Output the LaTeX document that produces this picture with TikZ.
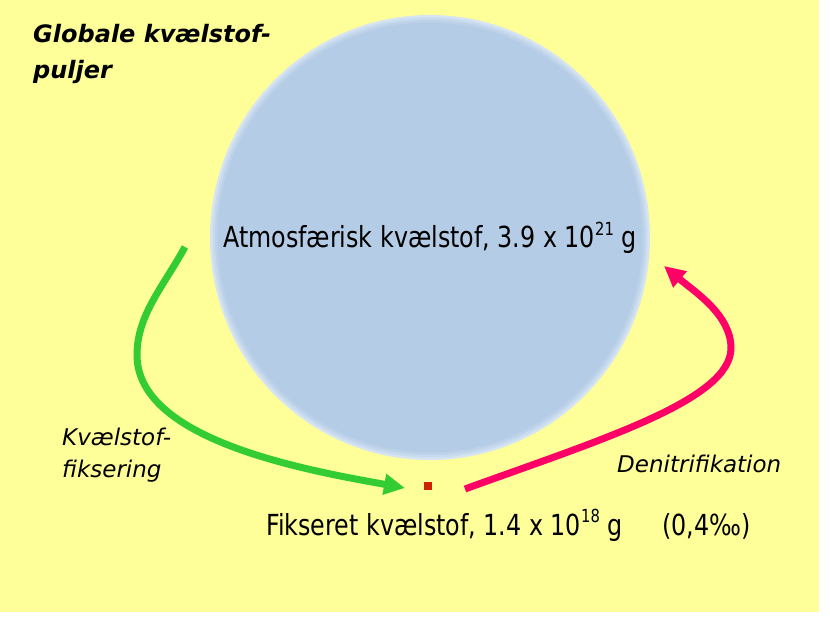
\documentclass[tikz,border=0pt]{standalone}
\usepackage{fontspec}
\setmainfont{DejaVu Sans}
\newfontfamily\tahfont{DejaVu Sans}[FakeStretch=0.82]
\usetikzlibrary{arrows.meta,shapes.geometric}
\definecolor{bgyellow}{HTML}{FFFF99}
\definecolor{atmblue}{HTML}{B4CCE5}
\definecolor{glowA}{HTML}{D6E4F2}
\definecolor{glowB}{HTML}{C8DAED}
\definecolor{glowC}{HTML}{BDD2E9}
\definecolor{fixgreen}{HTML}{33CC33}
\definecolor{denipink}{HTML}{FF0066}
\definecolor{sqred}{HTML}{CC2200}
\tikzset{
  maintext/.style={anchor=base west, inner sep=0pt, font=\tahfont\fontsize{29}{34}\selectfont},
  labeltext/.style={anchor=base west, inner sep=0pt, font=\itshape\fontsize{23}{28}\selectfont},
  titletext/.style={anchor=base west, inner sep=0pt, font=\bfseries\itshape\fontsize{24}{30}\selectfont},
  flowarrow/.style={line width=7pt, -{Triangle[length=21pt,width=20pt]}},
}
\newcommand{\supnum}[1]{\raisebox{0.42em}{\fontsize{18}{18}\selectfont #1}}
\begin{document}
\begin{tikzpicture}[x=1pt,y=-1pt]
\useasboundingbox (0,0) rectangle (830,620);
\fill[white] (0,0) rectangle (830,620);
\fill[bgyellow] (0,0) rectangle (819,612);
% atmosphere pool with soft edge
\fill[glowA] (430,237.5) ellipse [x radius=220, y radius=222.5];
\fill[glowB] (430,237.5) ellipse [x radius=217.5, y radius=220];
\fill[glowC] (430,237.5) ellipse [x radius=215, y radius=217.5];
\node[ellipse, fill=atmblue, inner sep=0pt, minimum width=425pt, minimum height=430pt]
      (atm) at (430,237.5) {};
\node[maintext] (atmtext) at (223,248) {Atmosfærisk kvælstof, 3.9 x 10\supnum{21} g};
% fixed nitrogen pool
\node[fill=sqred, minimum size=8pt, inner sep=0pt] (fix) at (427.5,486) {};
\node[maintext] (fixtext) at (266,535)
      {Fikseret kvælstof, 1.4 x 10\supnum{18} g\hspace*{40pt}(0,4‰)};
% title
\node[titletext] (title1) at (33,43) {Globale kvælstof-};
\node[titletext] (title2) at (33,79) {puljer};
% process labels
\node[labeltext] (fixlab1) at (62,445) {Kvælstof-};
\node[labeltext] (fixlab2) at (62,477) {fiksering};
\node[labeltext] (denlab) at (617,472) {Denitrifikation};
% arrows
\coordinate (gs) at (185,247);
\coordinate (gtip) at (405,488);
\coordinate (rs) at (465,489);
\coordinate (rtip) at (664,266);
\draw[flowarrow, fixgreen] (gs) .. controls (163,287) and (137,315) .. (137,355)
      .. controls (137,440) and (305,470) .. (gtip);
\draw[flowarrow, denipink] (rs) .. controls (600,440) and (731,400) .. (731,348)
      .. controls (731,315) and (695,292) .. (rtip);
\end{tikzpicture}
\end{document}
